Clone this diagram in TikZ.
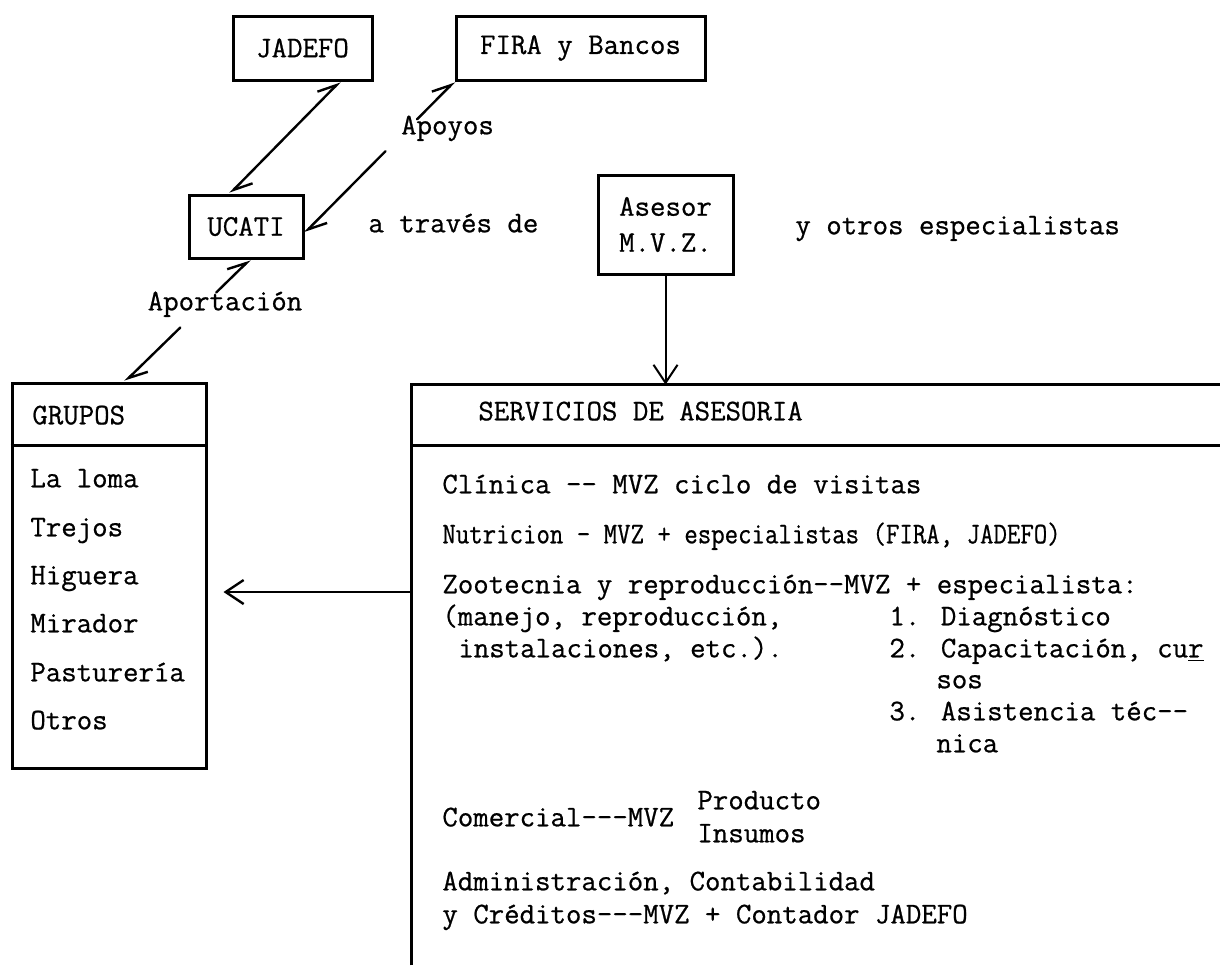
\documentclass[tikz,border=0pt]{standalone}
\usepackage{graphicx}
\usepackage{fontspec}
\newfontfamily\twfont{lmmono12-regular}[Extension=.otf, FakeBold=0.7]
\usetikzlibrary{arrows.meta,calc}
\tikzset{
  tw/.style={font=\twfont\fontsize{15}{18}\selectfont, inner sep=0pt},
  txt/.style={tw, anchor=mid west},
  lbl/.style={tw, anchor=mid},
  boxnode/.style={tw, draw, line width=1.5pt, rectangle, align=center},
  edge/.style={line width=1.5pt},
  link/.style={line width=1.2pt, line cap=round},
  hp/.tip={Straight Barb[harpoon,length=9pt,width=9pt]},
  ah/.tip={Straight Barb[length=9pt,width=12pt]},
}
\begin{document}
\begin{tikzpicture}[x=0.5pt,y=-0.5pt]
\useasboundingbox (0,0) rectangle (1220,965);
\fill[white] (0,0) rectangle (1220,965);

% top boxes
\node[boxnode, minimum width=69.5pt, minimum height=32pt] (jadefo) at (302.5,48) {JADEFO};
\node[boxnode, minimum width=124.5pt, minimum height=32pt] (fira) at (580.5,48) {FIRA y Bancos};
\node[boxnode, minimum width=57pt, minimum height=31.5pt] (ucati) at (246,226.5) {UCATI};
\node[boxnode, minimum width=67.5pt, minimum height=49.5pt] (asesor) at (665.5,224.5) {Asesor\\M.V.Z.};

% free labels
\node[txt] (atraves) at (368,228) {a través de};
\node[txt] (otros) at (795,230) {y otros especialistas};
\node[lbl] (apoyos) at (447.5,130) {Apoyos};
\node[lbl] (aport) at (225,306) {Aportación};

% GRUPOS box
\node[boxnode, minimum width=97pt, minimum height=192.5pt] (grupos) at (109,575.5) {};
\draw[edge] ([yshift=-32pt]grupos.north west) -- ([yshift=-32pt]grupos.north east);
\node[txt] (tgrupos) at (32,420) {GRUPOS};
\node[txt] (g1) at (30,483) {La loma};
\node[txt] (g2) at (30,532) {Trejos};
\node[txt] (g3) at (30,580) {Higuera};
\node[txt] (g4) at (30,628) {Mirador};
\node[txt] (g5) at (30,677) {Pasturería};
\node[txt] (g6) at (30,725) {Otros};

% SERVICIOS box (open to the right and bottom)
\node[inner sep=0pt, minimum width=404pt, minimum height=290pt] (serv) at (816,675) {};
\draw[edge] (serv.south west) -- (serv.north west) -- (serv.north east);
\draw[edge] ([yshift=-30.5pt]serv.north west) -- ([yshift=-30.5pt]serv.north east);
\node[txt] (tserv) at (478,416) {SERVICIOS DE ASESORIA};

\node[txt] (c1) at (442,489) {Clínica -- MVZ ciclo de visitas};
\node[txt] (c2) at (442,539) {\scalebox{0.87}[1]{Nutricion - MVZ + especialistas (FIRA, JADEFO)}};
\node[txt] (c3) at (442,589) {Zootecnia y reproducción--MVZ + especialista:};
\node[txt] (c4) at (442,621) {(manejo, reproducción,};
\node[txt] (c5) at (458,653) {instalaciones, etc.).};
\node[txt] (n1) at (889,621) {1. Diagnóstico};
\node[txt] (n2) at (889,653) {2. Capacitación, cu\underline{r}};
\node[txt] (n2b) at (936,684) {sos};
\node[txt] (n3) at (889,716) {3. Asistencia téc--};
\node[txt] (n3b) at (936,748) {nica};
\node[txt] (c6) at (442,822) {Comercial---MVZ};
\node[txt] (c6a) at (697,805) {Producto};
\node[txt] (c6b) at (697,838) {Insumos};
\node[txt] (c7) at (442,886) {Administración, Contabilidad};
\node[txt] (c8) at (442,919) {y Créditos---MVZ + Contador JADEFO};

% connectors
\draw[link, hp-hp] ([xshift=18.75pt]jadefo.south) -- ([xshift=-8pt]ucati.north);

\coordinate (fa) at (fira.south west);
\coordinate (fb) at ([yshift=-3.25pt]ucati.east);
\draw[link, hp-] (fa) -- ($(fa)!0.25!(fb)$);
\draw[link, -hp] ($(fa)!0.46!(fb)$) -- (fb);

\coordinate (ua) at ([xshift=2pt]ucati.south);
\coordinate (ub) at ([xshift=8pt]grupos.north);
\draw[link, hp-] (ua) -- ($(ua)!0.27!(ub)$);
\draw[link, -hp] ($(ua)!0.557!(ub)$) -- (ub);

\draw[line width=1pt, -ah] (asesor.south) -- (asesor.south |- serv.north);

\coordinate (s1) at ([yshift=41.5pt]serv.west);
\draw[link, -ah, shorten >=8pt] (s1) -- (grupos.east |- s1);
\end{tikzpicture}
\end{document}
